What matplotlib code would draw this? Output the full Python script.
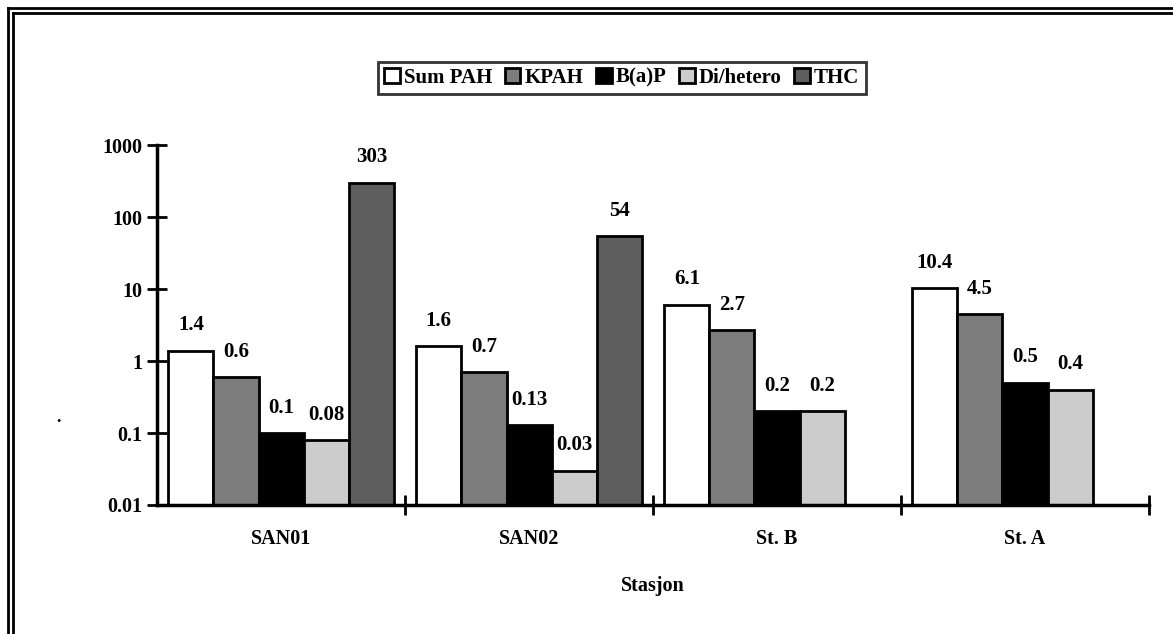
import matplotlib
matplotlib.use("Agg")
import matplotlib.pyplot as plt
import matplotlib.ticker as mticker
import numpy as np

stations = ["SAN01", "SAN02", "St. B", "St. A"]
series = ["Sum PAH", "KPAH", "B(a)P", "Di/hetero", "THC"]
sum_pah = [1.4, 1.6, 6.1, 10.4]
kpah = [0.6, 0.7, 2.7, 4.5]
bap = [0.1, 0.13, 0.2, 0.5]
di_hetero = [0.08, 0.03, 0.2, 0.4]
thc = [303, 54, None, None]
labels_txt = [
    ["1.4", "1.6", "6.1", "10.4"],
    ["0.6", "0.7", "2.7", "4.5"],
    ["0.1", "0.13", "0.2", "0.5"],
    ["0.08", "0.03", "0.2", "0.4"],
    ["303", "54", "", ""],
]
colors = ["white", "#7c7c7c", "black", "#cccccc", "#5e5e5e"]

plt.rcParams["font.family"] = ["Liberation Serif", "DejaVu Serif"]
plt.rcParams["font.weight"] = "bold"

fig = plt.figure(figsize=(11.73, 6.34), dpi=100)
ax = fig.add_axes([0.134, 0.2035, 0.8455, 0.5675])

x = np.arange(len(stations))
w = 0.182
all_vals = [sum_pah, kpah, bap, di_hetero, thc]
for i, (vals, name, c) in enumerate(zip(all_vals, series, colors)):
    pos = x + (i - 2) * w
    v = [np.nan if val is None else val for val in vals]
    ax.bar(pos, v, width=w, color=c, edgecolor="black", linewidth=2, label=name)
    for p, val, t in zip(pos, v, labels_txt[i]):
        if t and not np.isnan(val):
            ax.annotate(t, (p, val), xytext=(0, 11), textcoords="offset points",
                        ha="center", va="bottom", fontsize=15, fontweight="bold")

ax.set_yscale("log")
ax.set_ylim(0.01, 1000)
ax.set_xlim(-0.5, 3.5)
ax.yaxis.set_major_locator(mticker.LogLocator(base=10, numticks=10))
ax.yaxis.set_minor_locator(mticker.NullLocator())
ax.yaxis.set_major_formatter(mticker.FuncFormatter(lambda v, _: f"{v:g}"))
ax.set_xticks(x)
ax.set_xticklabels(stations, fontsize=14.5, fontweight="bold")
ax.set_xticks(np.arange(0.5, 4, 1), minor=True)
ax.tick_params(axis="x", which="major", length=0, pad=17)
ax.tick_params(axis="x", which="minor", direction="inout", length=14, width=2)
ax.tick_params(axis="y", direction="inout", length=14, width=2, labelsize=14.5, pad=4)
for lbl in ax.get_yticklabels():
    lbl.set_fontweight("bold")

for s in ["top", "right"]:
    ax.spines[s].set_visible(False)
for s in ["left", "bottom"]:
    ax.spines[s].set_linewidth(2.5)

ax.set_xlabel("Stasjon", fontsize=14.5, fontweight="bold", labelpad=20)

leg = fig.legend(loc="center", bbox_to_anchor=(0.530, 0.877), ncol=5,
                 frameon=True, fancybox=False, edgecolor="black",
                 handlelength=0.75, handleheight=0.75, handletextpad=0.2,
                 columnspacing=0.6, borderpad=0.3, prop={"weight": "bold", "size": 15})
leg.get_frame().set_linewidth(2)

# double page border on left and top
for off in (8, 13):
    fig.add_artist(plt.Line2D([off / 1173, off / 1173], [0, 1 - off / 634],
                              transform=fig.transFigure, color="black", lw=2))
    fig.add_artist(plt.Line2D([off / 1173, 1], [1 - off / 634, 1 - off / 634],
                              transform=fig.transFigure, color="black", lw=2))

fig.text(58 / 1173, 1 - 417 / 634, ".", fontsize=13, ha="center", va="center")

fig.savefig("out.png", dpi=100)
